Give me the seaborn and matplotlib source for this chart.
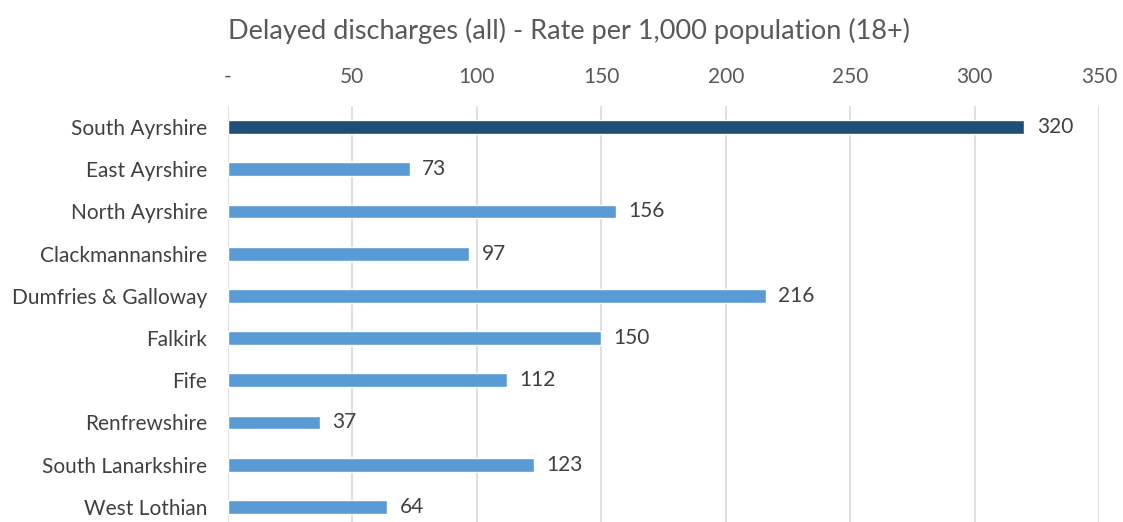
import numpy as np
import pandas as pd
import matplotlib.pyplot as plt
import seaborn as sns

# Data
areas = ["South Ayrshire", "East Ayrshire", "North Ayrshire", "Clackmannanshire",
         "Dumfries & Galloway", "Falkirk", "Fife", "Renfrewshire",
         "South Lanarkshire", "West Lothian"]
rates = [320, 73, 156, 97, 216, 150, 112, 37, 123, 64]
highlight = ["South Ayrshire"]

df = pd.DataFrame({"Area": areas, "Rate": rates})
df["Group"] = np.where(df["Area"].isin(highlight), "focus", "other")

sns.set_style("white")
plt.rcParams['font.family'] = ['Lato', 'DejaVu Sans']

fig = plt.figure(figsize=(11.23, 5.22), dpi=100)
ax = fig.add_axes([0.203, -0.0115, 0.7757, 0.8085])

sns.barplot(data=df, x="Rate", y="Area", hue="Group",
            palette={"focus": "#1F4E79", "other": "#5B9BD5"},
            dodge=False, width=0.33, saturation=1, legend=False, ax=ax)

# value labels
for i, v in enumerate(rates):
    ax.text(v + 5, i, f"{v}", va="center", ha="left", fontsize=15, color="#404040")

ax.set_xlim(0, 350)
ax.set_ylim(len(areas) - 0.5, -0.5)
ax.xaxis.tick_top()
ticks = [0, 50, 100, 150, 200, 250, 300, 350]
ax.set_xticks(ticks)
ax.set_xticklabels(["-"] + [str(t) for t in ticks[1:]])
ax.tick_params(axis="x", length=0, pad=14, labelsize=15, labelcolor="#595959")
ax.tick_params(axis="y", length=0, pad=15, labelsize=15, labelcolor="#404040")
ax.grid(axis="x", color="#D9D9D9", linewidth=1.2)
ax.set_axisbelow(True)
for s in ax.spines.values():
    s.set_visible(False)
ax.set_xlabel("")
ax.set_ylabel("")

fig.text(0.507, 0.94, "Delayed discharges (all) - Rate per 1,000 population (18+)",
         ha="center", va="center", fontsize=19.5, color="#595959")

plt.savefig("out.png", dpi=100)
